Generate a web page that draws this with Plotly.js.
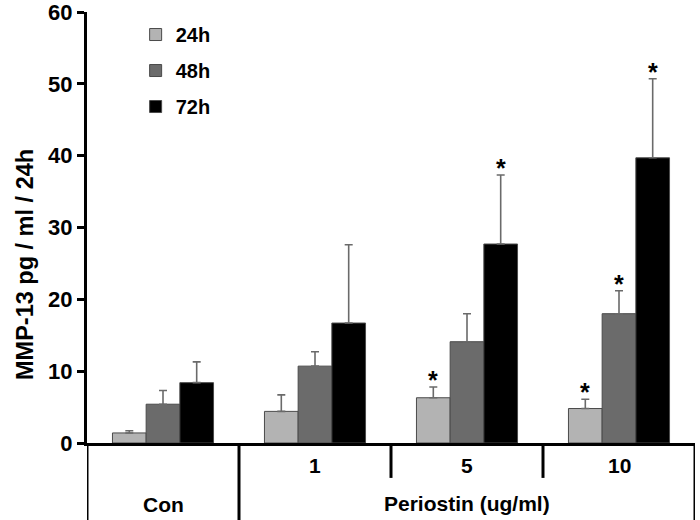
<!DOCTYPE html>
<html>
<head>
<meta charset="utf-8">
<script src="https://cdn.plot.ly/plotly-3.0.1.min.js"></script>
<style>html,body{margin:0;padding:0;background:#fff;}#chart{width:700px;height:520px;}</style>
</head>
<body>
<div id="chart"></div>
<script>
// Data
const categories = ["Con", "1", "5", "10"];
const seriesNames = ["24h", "48h", "72h"];
const mean24 = [1.4, 4.4, 6.3, 4.8];
const mean48 = [5.4, 10.7, 14.1, 18.0];
const mean72 = [8.4, 16.7, 27.7, 39.7];
const err24 = [0.3, 2.3, 1.5, 1.3];
const err48 = [1.9, 2.0, 3.9, 3.2];
const err72 = [2.9, 10.9, 9.6, 11.0];
const sig24 = [false, false, true, true];
const sig48 = [false, false, false, true];
const sig72 = [false, false, true, true];
const groupLabel = "Periostin (ug/ml)";
const yTitle = "MMP-13 pg / ml / 24h";

const colors = ["#b3b3b3", "#6b6b6b", "#000000"];
const FONT = "Liberation Sans, Arial, sans-serif";
const means = [mean24, mean48, mean72];
const errs = [err24, err48, err72];
const sigs = [sig24, sig48, sig72];
const bargap = 0.335;
const bw = (1 - bargap) / 3;
const xIdx = categories.map((c, i) => i);

const traces = seriesNames.map((name, k) => ({
  type: "bar",
  name: name,
  x: xIdx,
  y: means[k],
  legendgroup: name,
  marker: {color: colors[k], line: {color: "#4a4a4a", width: 1}},
  error_y: {type: "data", array: errs[k], symmetric: false, arrayminus: errs[k].map(() => 0),
            visible: true, color: "#6a6a6a", thickness: 1.6, width: 4},
  hoverinfo: "skip"
}));

const annotations = [];
// stars
sigs.forEach((sg, k) => {
  sg.forEach((s, i) => {
    if (s) {
      annotations.push({
        x: i + (k - 1) * bw, y: means[k][i] + errs[k][i], xref: "x", yref: "y",
        text: "<b>*</b>", showarrow: false, yanchor: "bottom", yshift: -9,
        font: {family: FONT, size: 25, color: "#000"}
      });
    }
  });
});
// category labels
categories.forEach((c, i) => {
  annotations.push({x: i, y: i === 0 ? -0.142 : -0.053, xref: "x", yref: "paper", text: "<b>" + c + "</b>",
    showarrow: false, yanchor: "middle", font: {family: FONT, size: 21, color: "#000"}});
});
annotations.push({x: 2, y: -0.14, xref: "x", yref: "paper", text: "<b>" + groupLabel + "</b>",
  showarrow: false, yanchor: "middle", font: {family: FONT, size: 21, color: "#000"}});
// y title
annotations.push({x: -(87 - 25) / 608, y: 0.413, xref: "paper", yref: "paper", text: "<b>" + yTitle + "</b>",
  showarrow: false, textangle: -90, xanchor: "center", yanchor: "middle",
  font: {family: FONT, size: 23.5, color: "#000"}});

const lineW = 3;
const shapes = [
  {type: "line", xref: "x", yref: "paper", x0: -0.5, x1: -0.5, y0: -0.179, y1: 0, line: {color: "#000", width: lineW}},
  {type: "line", xref: "x", yref: "paper", x0: 0.5, x1: 0.5, y0: -0.179, y1: 0, line: {color: "#000", width: lineW}},
  {type: "line", xref: "x", yref: "paper", x0: 1.5, x1: 1.5, y0: -0.081, y1: 0, line: {color: "#000", width: lineW}},
  {type: "line", xref: "x", yref: "paper", x0: 2.5, x1: 2.5, y0: -0.081, y1: 0, line: {color: "#000", width: lineW}},
  {type: "line", xref: "x", yref: "paper", x0: 3.5, x1: 3.5, y0: -0.179, y1: 0, line: {color: "#000", width: lineW}}
];

const layout = {
  width: 700, height: 520,
  margin: {l: 87, r: 5, t: 12, b: 77},
  paper_bgcolor: "#fff", plot_bgcolor: "#fff",
  barmode: "group", bargap: bargap, bargroupgap: 0,
  font: {family: FONT, color: "#000"},
  showlegend: true,
  legend: {x: 0.08, y: 0.993, xanchor: "left", yanchor: "top", traceorder: "grouped",
           tracegroupgap: 7, bgcolor: "rgba(0,0,0,0)",
           font: {family: FONT, size: 20, color: "#000", weight: "bold"}},
  xaxis: {range: [-0.5, 3.5], showticklabels: false, ticks: "", showgrid: false, zeroline: false,
          showline: true, linecolor: "#000", linewidth: lineW, fixedrange: true},
  yaxis: {range: [0, 60], dtick: 10, tick0: 0, ticks: "outside", ticklen: 7, tickwidth: lineW, tickcolor: "#000",
          showline: true, linecolor: "#000", linewidth: lineW, showgrid: false, zeroline: false,
          ticklabeloverflow: "allow",
          tickfont: {family: FONT, size: 22, color: "#000", weight: "bold"}},
  annotations: annotations,
  shapes: shapes
};

Plotly.newPlot("chart", traces, layout, {displayModeBar: false, staticPlot: true});
</script>
</body>
</html>
